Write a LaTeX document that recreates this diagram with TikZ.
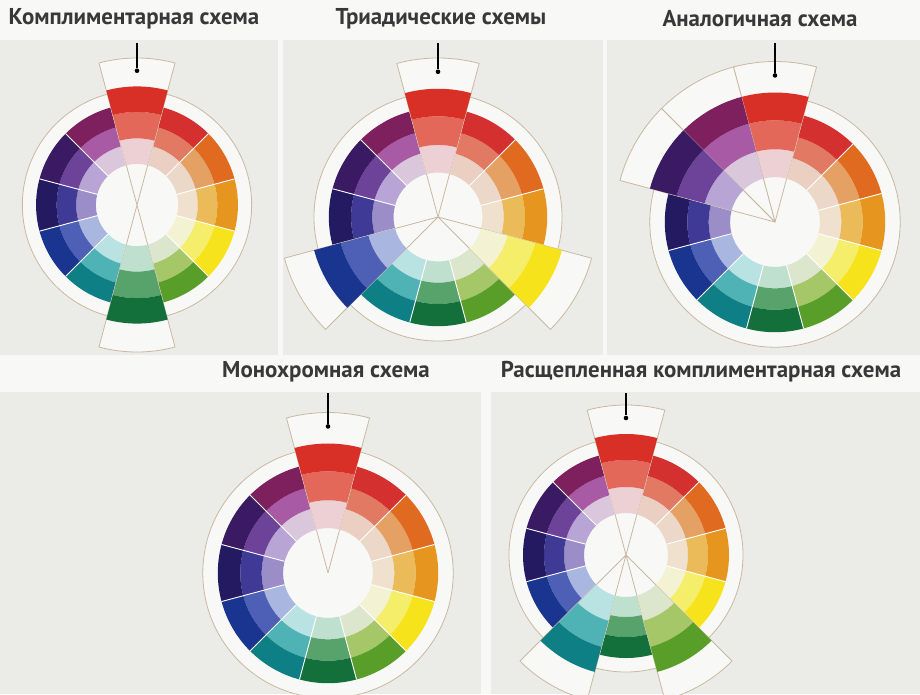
\documentclass[tikz,border=0pt]{standalone}
\usepackage{fontspec}
\setmainfont{PT Sans}
\usepackage{tikz}
\definecolor{paper}{HTML}{F8F8F7}
\definecolor{photo}{HTML}{EBEBE8}
\definecolor{tan}{HTML}{C9B9A0}
\definecolor{ink}{HTML}{383838}
\definecolor{redD}{HTML}{D83027}\definecolor{redM}{HTML}{E4685A}\definecolor{redL}{HTML}{EDD0D3}
\definecolor{crimD}{HTML}{D3302F}\definecolor{crimM}{HTML}{E27A63}\definecolor{crimL}{HTML}{EBCFC3}
\definecolor{orngD}{HTML}{E06A1F}\definecolor{orngM}{HTML}{E5A063}\definecolor{orngL}{HTML}{ECD8C8}
\definecolor{ambrD}{HTML}{E6951F}\definecolor{ambrM}{HTML}{EBBB5A}\definecolor{ambrL}{HTML}{EFE1CD}
\definecolor{yellD}{HTML}{F6E31B}\definecolor{yellM}{HTML}{F5EE6A}\definecolor{yellL}{HTML}{F3F3D4}
\definecolor{limeD}{HTML}{5A9E2A}\definecolor{limeM}{HTML}{A5C768}\definecolor{limeL}{HTML}{DCE6CC}
\definecolor{grnD}{HTML}{13703A}\definecolor{grnM}{HTML}{58A36C}\definecolor{grnL}{HTML}{C0E0CF}
\definecolor{tealD}{HTML}{0F7F86}\definecolor{tealM}{HTML}{4FB3B5}\definecolor{tealL}{HTML}{B9E2E2}
\definecolor{bluD}{HTML}{1A3590}\definecolor{bluM}{HTML}{4E60B5}\definecolor{bluL}{HTML}{A9B6E0}
\definecolor{indgD}{HTML}{241A62}\definecolor{indgM}{HTML}{3F3A95}\definecolor{indgL}{HTML}{9A8DC8}
\definecolor{violD}{HTML}{3A1A62}\definecolor{violM}{HTML}{6D439A}\definecolor{violL}{HTML}{B8A5D6}
\definecolor{mageD}{HTML}{7E1F5E}\definecolor{mageM}{HTML}{A95AA5}\definecolor{mageL}{HTML}{DBC7DC}
\newcommand{\wheelcell}[4]{\fill[#4] (#1-15:#3) arc (#1-15:#1+15:#3) -- (#1+15:#2) arc (#1+15:#1-15:#2) -- cycle;}
\newcommand{\colorwheel}[4]{%
 \begin{scope}[shift={#2},scale=#3]
  \filldraw[rim] (0,0) circle (117);
  \foreach \a/\hue in {90/red,60/crim,30/orng,0/ambr,-30/yell,-60/lime,-90/grn,-120/teal,-150/blu,180/indg,150/viol,120/mage}{
   \wheelcell{\a}{42}{62}{\hue L}
   \wheelcell{\a}{62}{82}{\hue M}
   \wheelcell{\a}{82}{103}{\hue D}
  }
  \foreach \a in {15,45,...,345} \draw[gap] (\a:42) -- (\a:103);
  \foreach \a/\hue in {#4}{
   \filldraw[wedge] (0,0) -- (\a-15:150) arc (\a-15:\a+15:150) -- cycle;
   \wheelcell{\a}{42}{68}{\hue L}
   \wheelcell{\a}{68}{95}{\hue M}
   \wheelcell{\a}{95}{121}{\hue D}
  }
  \node[dot] (#1) at (90:137) {};
 \end{scope}}

\begin{document}
\begin{tikzpicture}[x=1pt,y=1pt,semithick,
  title/.style={text=ink,font=\bfseries\fontsize{22.9}{26}\selectfont,inner sep=0pt},
  rim/.style={fill=paper,draw=tan,line width=0.8pt},
  wedge/.style={fill=paper,draw=tan,line width=0.8pt,line join=round},
  gap/.style={draw=white,line width=0.9pt},
  dot/.style={circle,fill=black,inner sep=0pt,minimum size=4.6pt},
  pin/.style={draw=black,line width=1.1pt}]
 \tikzstyle{panel}=[fill=photo]
   \fill[paper] (0,0) rectangle (920,-694);
   \node[title] (t1) at (134,-19) {Комплиментарная схема};
   \node[title] (t2) at (441,-19) {Триадические схемы};
   \node[title] (t3) at (760,-19) {Аналогичная схема};
   \node[title] (t4) at (326,-372) {Монохромная схема};
   \node[title] (t5) at (701,-372) {Расщепленная комплиментарная схема};
   \begin{scope}
    \clip (0,-40) rectangle (278,-355);
    \fill[panel] (0,-40) rectangle (278,-355);
    \colorwheel{cw1}{(137,-205)}{0.98}{90/red,-90/grn}
    \coordinate (cw1-top) at (137,-43);
    \draw[pin] (cw1-top) -- (cw1);
   \end{scope}
   \begin{scope}
    \clip (283,-40) rectangle (603,-355);
    \fill[panel] (283,-40) rectangle (603,-355);
    \colorwheel{cw2}{(438,-217)}{1.06}{90/red,-30/yell,-150/blu}
    \coordinate (cw2-top) at (438,-43);
    \draw[pin] (cw2-top) -- (cw2);
   \end{scope}
   \begin{scope}
    \clip (607,-40) rectangle (920,-355);
    \fill[panel] (607,-40) rectangle (920,-355);
    \colorwheel{cw3}{(775,-222)}{1.07}{90/red,120/mage,150/viol}
    \coordinate (cw3-top) at (775,-43);
    \draw[pin] (cw3-top) -- (cw3);
   \end{scope}
   \begin{scope}
    \clip (0,-392) rectangle (481,-694);
    \fill[panel] (0,-392) rectangle (481,-694);
    \colorwheel{cw4}{(328,-573)}{1.07}{90/red}
    \coordinate (cw4-top) at (328,-393);
    \draw[pin] (cw4-top) -- (cw4);
   \end{scope}
   \begin{scope}
    \clip (491,-392) rectangle (920,-694);
    \fill[panel] (491,-392) rectangle (920,-694);
    \colorwheel{cw5}{(626,-555)}{1.0}{90/red,-60/lime,-120/teal}
    \coordinate (cw5-top) at (626,-393);
    \draw[pin] (cw5-top) -- (cw5);
   \end{scope}
\end{tikzpicture}
\end{document}
